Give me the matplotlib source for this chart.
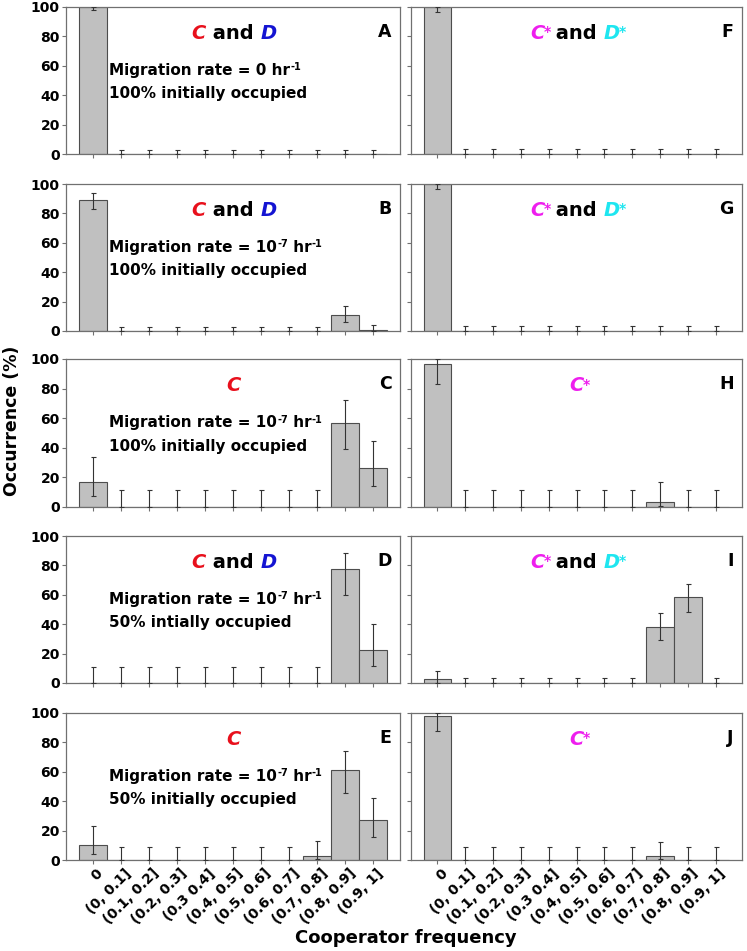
import numpy as np
import matplotlib.pyplot as plt
from matplotlib.transforms import ScaledTranslation

plt.rcParams['font.family'] = ['DejaVu Sans']
plt.rcParams['font.weight'] = 'bold'

# ---------------- data ----------------
cats = ['0', '(0, 0.1]', '(0.1, 0.2]', '(0.2, 0.3]', '(0.3 0.4]', '(0.4, 0.5]',
        '(0.5, 0.6]', '(0.6, 0.7]', '(0.7, 0.8]', '(0.8, 0.9]', '(0.9, 1]']

# value, lower bound, upper bound of the error bar (%)
A_val = [100, 0, 0, 0, 0, 0, 0, 0, 0, 0, 0]
A_lo = [98, 0, 0, 0, 0, 0, 0, 0, 0, 0, 0]
A_hi = [100, 2.5, 2.5, 2.5, 2.5, 2.5, 2.5, 2.5, 2.5, 2.5, 2.5]

B_val = [89, 0, 0, 0, 0, 0, 0, 0, 0, 10.7, 0.9]
B_lo = [82.8, 0, 0, 0, 0, 0, 0, 0, 0, 6.3, 0]
B_hi = [93.7, 2.9, 2.9, 2.9, 2.9, 2.9, 2.9, 2.9, 2.9, 17, 4.3]

C_val = [16.7, 0, 0, 0, 0, 0, 0, 0, 0, 56.5, 26.6]
C_lo = [7.4, 0, 0, 0, 0, 0, 0, 0, 0, 39.2, 14.4]
C_hi = [33.6, 11.5, 11.5, 11.5, 11.5, 11.5, 11.5, 11.5, 11.5, 72.3, 44.6]

D_val = [0, 0, 0, 0, 0, 0, 0, 0, 0, 77.4, 22.4]
D_lo = [0, 0, 0, 0, 0, 0, 0, 0, 0, 60, 11.3]
D_hi = [10.9, 10.9, 10.9, 10.9, 10.9, 10.9, 10.9, 10.9, 10.9, 88.7, 39.8]

E_val = [10, 0, 0, 0, 0, 0, 0, 0, 2.7, 61.1, 26.9]
E_lo = [4.1, 0, 0, 0, 0, 0, 0, 0, 0.7, 45.9, 15.6]
E_hi = [22.9, 8.6, 8.6, 8.6, 8.6, 8.6, 8.6, 8.6, 12.7, 74.4, 41.9]

F_val = [100, 0, 0, 0, 0, 0, 0, 0, 0, 0, 0]
F_lo = [96.8, 0, 0, 0, 0, 0, 0, 0, 0, 0, 0]
F_hi = [100, 3.4, 3.4, 3.4, 3.4, 3.4, 3.4, 3.4, 3.4, 3.4, 3.4]

G_val = [100, 0, 0, 0, 0, 0, 0, 0, 0, 0, 0]
G_lo = [96.6, 0, 0, 0, 0, 0, 0, 0, 0, 0, 0]
G_hi = [100, 3.6, 3.6, 3.6, 3.6, 3.6, 3.6, 3.6, 3.6, 3.6, 3.6]

H_val = [96.8, 0, 0, 0, 0, 0, 0, 0, 3.2, 0, 0]
H_lo = [83, 0, 0, 0, 0, 0, 0, 0, 0.5, 0, 0]
H_hi = [100, 11.5, 11.5, 11.5, 11.5, 11.5, 11.5, 11.5, 17.2, 11.5, 11.5]

I_val = [2.5, 0, 0, 0, 0, 0, 0, 0, 38, 58.4, 0]
I_lo = [0, 0, 0, 0, 0, 0, 0, 0, 29, 48.6, 0]
I_hi = [7.9, 3.2, 3.2, 3.2, 3.2, 3.2, 3.2, 3.2, 47.5, 67.4, 3.2]

J_val = [97.7, 0, 0, 0, 0, 0, 0, 0, 2.5, 0, 0]
J_lo = [87.6, 0, 0, 0, 0, 0, 0, 0, 0.5, 0, 0]
J_hi = [100, 8.6, 8.6, 8.6, 8.6, 8.6, 8.6, 8.6, 12.4, 8.6, 8.6]

# text pieces: normal, superscript, normal, superscript ...
rate0 = ['Migration rate = 0 hr', '-1']
rate7 = ['Migration rate = 10', '-7', ' hr', '-1']

# (letter, values, lo, hi, title kind, info lines)
left_panels = [
    ('A', A_val, A_lo, A_hi, 'CD', [rate0, '100% initially occupied']),
    ('B', B_val, B_lo, B_hi, 'CD', [rate7, '100% initially occupied']),
    ('C', C_val, C_lo, C_hi, 'C', [rate7, '100% initially occupied']),
    ('D', D_val, D_lo, D_hi, 'CD', [rate7, '50% intially occupied']),
    ('E', E_val, E_lo, E_hi, 'C', [rate7, '50% initially occupied']),
]
right_panels = [
    ('F', F_val, F_lo, F_hi, 'CsDs', []),
    ('G', G_val, G_lo, G_hi, 'CsDs', []),
    ('H', H_val, H_lo, H_hi, 'Cs', []),
    ('I', I_val, I_lo, I_hi, 'CsDs', []),
    ('J', J_val, J_lo, J_hi, 'Cs', []),
]

RED, BLUE, MAGENTA, CYAN = '#e8101c', '#1414d2', '#ee1eee', '#1ee6f0'
SPINE = '#707070'

# ---------------- layout (pixels) ----------------
W, H = 747, 951
ROWS = [(7, 154), (184, 331), (359, 507), (536, 683), (713, 860)]
COLS = [(66, 400), (411, 742)]

fig = plt.figure(figsize=(W / 100, H / 100), dpi=100)


def add_ax(col, row):
    x0, x1 = COLS[col]
    y0, y1 = ROWS[row]
    return fig.add_axes([x0 / W, 1 - y1 / H, (x1 - x0) / W, (y1 - y0) / H])


def add_star(t, color):
    ax_ = t.axes
    ax_.annotate('*', xy=(0.92, 0.93), xycoords=t, ha='left', va='top',
                 fontsize=10, fontweight='bold', fontstyle='italic', color=color)


def draw_title(ax, kind):
    y = 0.755
    kw = dict(fontsize=14, fontweight='bold', fontstyle='italic')
    if kind in ('CD', 'CsDs'):
        mid = ax.text(0.5, y, ' and ', transform=ax.transAxes, ha='center',
                      va='bottom', fontsize=14, fontweight='bold')
        if kind == 'CD':
            ax.annotate('C', xy=(0, 0), xycoords=mid, ha='right', va='bottom', color=RED, **kw)
            ax.annotate('D', xy=(1, 0), xycoords=mid, ha='left', va='bottom', color=BLUE, **kw)
        else:
            c = ax.annotate('C', xy=(-0.08, 0), xycoords=mid, ha='right', va='bottom',
                            color=MAGENTA, **kw)
            add_star(c, MAGENTA)
            d = ax.annotate('D', xy=(1, 0), xycoords=mid, ha='left', va='bottom',
                            color=CYAN, **kw)
            add_star(d, CYAN)
    elif kind == 'C':
        ax.text(0.5, y, 'C', transform=ax.transAxes, ha='center', va='bottom',
                color=RED, **kw)
    else:
        c = ax.text(0.5, y, 'C', transform=ax.transAxes, ha='center', va='bottom',
                    color=MAGENTA, **kw)
        add_star(c, MAGENTA)


def sup_text(ax, x, y, parts, fs):
    base = ax.text(x, y, parts[0], transform=ax.transAxes, ha='left', va='center',
                   fontsize=fs, fontweight='bold')
    prev = base
    for i, p in enumerate(parts[1:]):
        if i % 2 == 0:
            prev = ax.annotate(p, xy=(1, 0.36), xycoords=(prev, base), ha='left',
                               va='bottom', fontsize=fs * 0.65, fontweight='bold')
        else:
            prev = ax.annotate(p, xy=(1, 0), xycoords=(prev, base), ha='left',
                               va='bottom', fontsize=fs, fontweight='bold')


x = np.arange(len(cats))
lab_shift = ScaledTranslation(8 / 100, -5 / 100, fig.dpi_scale_trans)

for col, panels in enumerate([left_panels, right_panels]):
    for row, (letter, val, lo, hi, kind, info) in enumerate(panels):
        ax = add_ax(col, row)
        val = np.array(val, dtype=float)
        lo = np.array(lo, dtype=float)
        hi = np.array(hi, dtype=float)
        ax.bar(x, val, width=1.0, color='#c0c0c0', edgecolor='#4d4d4d', linewidth=0.8, zorder=2)
        ax.errorbar(x, val, yerr=[val - lo, hi - val], fmt='none', ecolor='#333333',
                    elinewidth=0.8, capsize=1.8, capthick=0.8, zorder=3)
        ax.set_xlim(-0.95, 10.95)
        ax.set_ylim(0, 100)
        ax.set_yticks([0, 20, 40, 60, 80, 100])
        ax.set_xticks(x)
        for sp in ax.spines.values():
            sp.set_color(SPINE)
            sp.set_linewidth(0.9)
        ax.tick_params(axis='both', direction='out', length=3, width=0.8, color=SPINE,
                       labelsize=10, pad=1.5)
        if col == 0:
            ax.set_yticklabels(['0', '20', '40', '60', '80', '100'], fontweight='bold')
        else:
            ax.set_yticklabels([])
        if row == 4:
            ax.set_xticklabels(cats, rotation=45, ha='right', va='center',
                               rotation_mode='anchor', fontweight='bold', fontsize=10)
            for lab in ax.get_xticklabels():
                lab.set_transform(lab.get_transform() + lab_shift)
        else:
            ax.set_xticklabels([])

        draw_title(ax, kind)
        ax.text(0.975, 0.83, letter, transform=ax.transAxes, ha='right', va='center',
                fontsize=12.5, fontweight='bold')
        if info:
            sup_text(ax, 0.13, 0.57, info[0], 11)
            ax.text(0.13, 0.41, info[1], transform=ax.transAxes, ha='left', va='center',
                    fontsize=11, fontweight='bold')

fig.text(12 / W, 1 - 421 / H, 'Occurrence (%)', rotation=90, ha='center', va='center',
         fontsize=12.5, fontweight='bold')
fig.text(406 / W, 1 - 938 / H, 'Cooperator frequency', ha='center', va='center',
         fontsize=13, fontweight='bold')

fig.savefig('out.png', dpi=100)
